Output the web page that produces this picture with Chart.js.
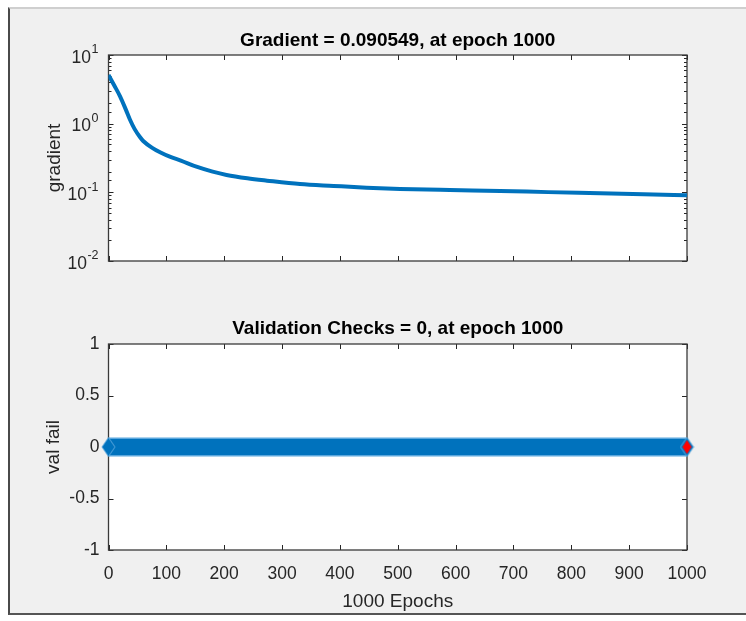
<!DOCTYPE html>
<html>
<head>
<meta charset="utf-8">
<script src="https://cdn.jsdelivr.net/npm/chart.js@4/dist/chart.umd.min.js"></script>
<style>
  body { margin: 0; background: #ffffff; width: 746px; height: 621px; overflow: hidden; position: relative; }
  #frame { position: absolute; left: 8px; top: 7px; width: 736px; height: 604px; background: #f0f0f0;
           border-left: 2px solid #4a4a4a; border-top: 2px solid #cfcfcf; border-bottom: 2px solid #555555; }
  canvas { position: absolute; left: 0; }
</style>
</head>
<body>
<div id="frame"></div>
<canvas id="gradient-chart" width="746" height="300" style="top:0px"></canvas>
<canvas id="valfail-chart" width="746" height="321" style="top:300px"></canvas>
<script>
const gradEpochs = [0, 10, 20, 30, 37, 45, 54, 60, 77, 90, 106, 125, 152, 180, 204, 240, 274, 331, 389, 446, 504, 590, 677, 760, 850, 925, 1000];
const gradValues = [5.12, 3.6, 2.5, 1.6, 1.15, 0.84, 0.645, 0.56, 0.437, 0.38, 0.33, 0.29, 0.236, 0.20, 0.179, 0.16, 0.148, 0.132, 0.124, 0.117, 0.112, 0.108, 0.105, 0.1007, 0.097, 0.0938, 0.0905];

const valEpochs = [0, 1000];
const valFail = [0, 0];
const bestEpoch = [1000];
const bestValFail = [0];

const xTicks = [0, 100, 200, 300, 400, 500, 600, 700, 800, 900, 1000];
const valTicks = [-1, -0.5, 0, 0.5, 1];

const FONT = "'Liberation Sans', Arial, Helvetica, sans-serif";
const AXIS_COLOR = '#262626';
const BLUE = '#0072BD';

const isDecade = v => {
  const l = Math.log10(v);
  return Math.abs(l - Math.round(l)) < 1e-9;
};

const diamond = (hw, hh, fill, stroke) => {
  const c = document.createElement('canvas');
  c.width = Math.ceil(hw * 2 + 2);
  c.height = Math.ceil(hh * 2 + 2);
  const g = c.getContext('2d');
  const cx = c.width / 2, cy = c.height / 2;
  g.beginPath();
  g.moveTo(cx - hw, cy);
  g.lineTo(cx, cy - hh);
  g.lineTo(cx + hw, cy);
  g.lineTo(cx, cy + hh);
  g.closePath();
  g.fillStyle = fill;
  g.fill();
  if (stroke) {
    g.strokeStyle = stroke;
    g.lineWidth = 1;
    g.stroke();
  }
  return c;
};

// white axes background, box and inward tick marks like matlab
const matlabAxes = {
  id: 'matlabAxes',
  beforeDraw(chart) {
    const { ctx, chartArea: a } = chart;
    ctx.save();
    ctx.fillStyle = '#ffffff';
    ctx.fillRect(a.left, a.top, a.right - a.left, a.bottom - a.top);
    ctx.restore();
  },
  beforeDatasetsDraw(chart) {
    const { ctx, chartArea: a, scales } = chart;
    ctx.save();
    ctx.strokeStyle = AXIS_COLOR;
    ctx.lineWidth = 1;
    ctx.beginPath();
    scales.x.ticks.forEach(t => {
      const px = Math.round(scales.x.getPixelForValue(t.value)) + 0.5;
      ctx.moveTo(px, a.bottom);
      ctx.lineTo(px, a.bottom - 5);
      ctx.moveTo(px, a.top);
      ctx.lineTo(px, a.top + 5);
    });
    const logY = scales.y.type === 'logarithmic';
    scales.y.ticks.forEach(t => {
      const py = Math.round(scales.y.getPixelForValue(t.value)) + 0.5;
      const len = logY && !isDecade(t.value) ? 3 : 5;
      ctx.moveTo(a.left, py);
      ctx.lineTo(a.left + len, py);
      ctx.moveTo(a.right, py);
      ctx.lineTo(a.right - len, py);
    });
    ctx.stroke();
    ctx.lineWidth = 1.3;
    ctx.strokeStyle = '#3a3a3a';
    ctx.strokeRect(a.left, a.top, a.right - a.left, a.bottom - a.top);
    ctx.restore();
  }
};

// 10^n labels with a raised exponent
const decadeLabels = {
  id: 'decadeLabels',
  afterDraw(chart) {
    const { ctx, chartArea: a, scales } = chart;
    const y = scales.y;
    if (y.type !== 'logarithmic') return;
    const right = a.left - 10;
    ctx.save();
    ctx.fillStyle = AXIS_COLOR;
    ctx.textBaseline = 'middle';
    ctx.textAlign = 'right';
    y.ticks.filter(t => isDecade(t.value)).forEach(t => {
      const py = y.getPixelForValue(t.value);
      const exp = String(Math.round(Math.log10(t.value)));
      ctx.font = '12.5px ' + FONT;
      const w = ctx.measureText(exp).width;
      ctx.fillText(exp, right, py - 5);
      ctx.font = '17.5px ' + FONT;
      ctx.fillText('10', right - w - 0.5, py + 3);
    });
    ctx.restore();
  }
};

const tickFont = { family: FONT, size: 17.5 };
const labelFont = { family: FONT, size: 19 };
const titleFont = { family: FONT, size: 19, weight: 'bold' };

new Chart(document.getElementById('gradient-chart'), {
  type: 'line',
  data: {
    datasets: [{
      data: gradEpochs.map((e, i) => ({ x: e, y: gradValues[i] })),
      borderColor: BLUE,
      borderWidth: 4,
      pointRadius: 0,
      cubicInterpolationMode: 'monotone',
      fill: false
    }]
  },
  options: {
    responsive: false,
    animation: false,
    events: [],
    layout: { padding: { left: 0, right: 59, top: 0, bottom: 0 } },
    plugins: {
      legend: { display: false },
      tooltip: { enabled: false },
      title: {
        display: true,
        fullSize: false,
        text: 'Gradient = 0.090549, at epoch 1000',
        color: '#000000',
        font: titleFont,
        padding: { top: 29.6, bottom: 2.6 }
      }
    },
    scales: {
      x: {
        type: 'linear',
        min: 0,
        max: 1000,
        grid: { display: false, drawTicks: false },
        border: { display: false },
        ticks: { display: false, stepSize: 100, autoSkip: false },
        afterBuildTicks: s => { s.ticks = xTicks.map(v => ({ value: v })); },
        afterFit: s => { s.height = 39; }
      },
      y: {
        type: 'logarithmic',
        min: 0.01,
        max: 10,
        grid: { display: false, drawTicks: false },
        border: { display: false },
        ticks: { display: false, autoSkip: false },
        title: { display: true, text: 'gradient', color: AXIS_COLOR, font: labelFont, padding: { top: 43.6 } },
        afterFit: s => { s.width = 108.5; }
      }
    }
  },
  plugins: [matlabAxes, decadeLabels]
});

new Chart(document.getElementById('valfail-chart'), {
  type: 'line',
  data: {
    datasets: [
      {
        data: bestEpoch.map((e, i) => ({ x: e, y: bestValFail[i] })),
        showLine: false,
        pointStyle: diamond(4.5, 7, '#ff0000'),
        pointRadius: 6,
        clip: false,
        order: 0
      },
      {
        data: valEpochs.map((e, i) => ({ x: e, y: valFail[i] })),
        borderColor: BLUE,
        borderWidth: 16,
        borderCapStyle: 'butt',
        pointStyle: diamond(6.5, 9.5, BLUE, '#5ba7dd'),
        pointRadius: 6,
        clip: false,
        order: 1
      },
      {
        data: valEpochs.map((e, i) => ({ x: e, y: valFail[i] })),
        borderColor: '#5ba7dd',
        borderWidth: 19,
        borderCapStyle: 'butt',
        pointRadius: 0,
        clip: false,
        order: 2
      }
    ]
  },
  options: {
    responsive: false,
    animation: false,
    events: [],
    layout: { padding: { left: 0, right: 59, top: 0, bottom: 0 } },
    plugins: {
      legend: { display: false },
      tooltip: { enabled: false },
      title: {
        display: true,
        fullSize: false,
        text: 'Validation Checks = 0, at epoch 1000',
        color: '#000000',
        font: titleFont,
        padding: { top: 17.6, bottom: 3.6 }
      }
    },
    scales: {
      x: {
        type: 'linear',
        min: 0,
        max: 1000,
        grid: { display: false, drawTicks: false },
        border: { display: false },
        ticks: { stepSize: 100, autoSkip: false, maxRotation: 0, padding: 13.5, color: AXIS_COLOR, font: tickFont, callback: v => String(v) },
        afterBuildTicks: s => { s.ticks = xTicks.map(v => ({ value: v })); },
        title: { display: true, text: '1000 Epochs', color: AXIS_COLOR, font: labelFont, padding: { top: 0, bottom: 7.6 } },
        afterFit: s => { s.height = 71; }
      },
      y: {
        type: 'linear',
        min: -1,
        max: 1,
        grid: { display: false, drawTicks: false },
        border: { display: false },
        ticks: { stepSize: 0.5, autoSkip: false, padding: 9, color: AXIS_COLOR, font: tickFont, callback: v => String(v) },
        afterBuildTicks: s => { s.ticks = valTicks.map(v => ({ value: v })); },
        title: { display: true, text: 'val fail', color: AXIS_COLOR, font: labelFont, padding: { top: 42.6 } },
        afterFit: s => { s.width = 108.5; }
      }
    }
  },
  plugins: [matlabAxes]
});
</script>
</body>
</html>
